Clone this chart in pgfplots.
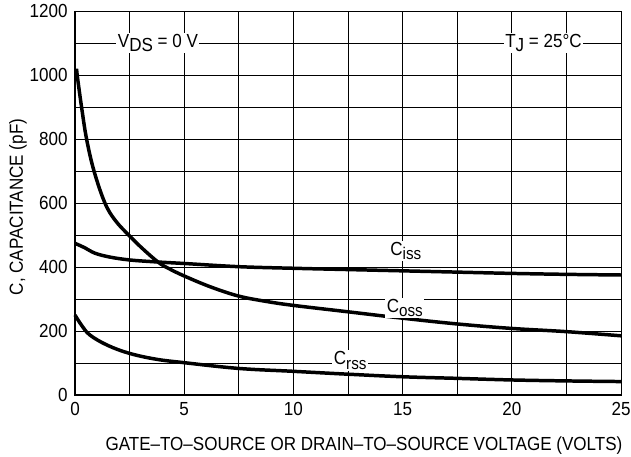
\documentclass[border=0pt]{standalone}
\usepackage{pgfplots}
\pgfplotsset{compat=1.18}
\usepackage{fontspec}
\setmainfont{Liberation Sans}[FakeStretch=0.9]
\newcommand\chartfont{\fontsize{19}{22}\selectfont}
\newcommand\subfont{\fontsize{17}{20}\selectfont}
\begin{document}
\begin{tikzpicture}
\begin{axis}[
    name=ax, scale only axis, width=546bp, height=384bp,
    xmin=0, xmax=25, ymin=0, ymax=1200,
    xtick={0,5,...,25}, ytick={0,200,...,1200},
    minor x tick num=1, minor y tick num=1,
    grid=both, grid style={black, line width=0.8pt},
    major tick length=0pt, minor tick length=0pt,
    axis line style={black, line width=0.8pt},
    tick label style={font=\chartfont},
    /pgf/number format/assume math mode=true,
    /pgf/number format/1000 sep=,
    xticklabel style={yshift=-4pt},
    yticklabel style={xshift=-4pt},
    xlabel={GATE--TO--SOURCE OR DRAIN--TO--SOURCE VOLTAGE (VOLTS)},
    ylabel={C, CAPACITANCE (pF)},
    label style={font=\chartfont},
    xlabel style={yshift=-14pt, xshift=16pt},
    ylabel style={yshift=-4pt, xshift=-4pt},
    clip=false,
    curve/.style={black, line width=3.5pt, smooth, tension=0.6, no markers},
  ]
  \draw[line width=2.5pt] (rel axis cs:0,1) -- (rel axis cs:0,0) -- (rel axis cs:1,0);
  % Ciss
  \addplot[curve] coordinates {(0,474) (0.45,460) (0.92,443) (1.6,431) (2.5,422) (3.7,416) (5,411) (7.5,401) (10,396) (12.5,392) (15,388) (17.5,384) (20,380) (22.5,377) (25,375)};
  % Coss
  \addplot[curve] coordinates {(0.08,1020) (0.1,1000) (0.3,900) (0.53,800) (0.87,700) (1.37,600) (1.85,545) (2.5,497) (3.1,457) (3.81,415) (4.3,395) (5,372) (6.2,338) (7.5,309) (8.8,292) (10,280) (12.5,260) (15,240) (17.5,222) (20,208) (22.5,198) (25,185)};
  % Crss
  \addplot[curve] coordinates {(0,250) (0.3,218) (0.69,187) (1.5,155) (2.5,130) (3.7,112) (5,101) (7.5,83) (10,74) (12.5,65) (15,57) (17.5,52) (20,47) (22.5,44) (25,42)};
  \begin{scope}[every node/.style={fill=white, inner sep=1.5pt, font=\chartfont}]
    \node at (axis cs:3.8,1100) {V\raisebox{-0.45ex}{DS} = 0 V};
    \node at (axis cs:21.45,1100) {T\raisebox{-0.45ex}{J} = 25\textdegree C};
    \node at (axis cs:15.15,450) {C\raisebox{-0.45ex}{\subfont iss}};
    \node at (axis cs:15.1,272) {C\raisebox{-0.45ex}{\subfont oss}};
    \node at (axis cs:12.6,108) {C\raisebox{-0.45ex}{\subfont rss}};
  \end{scope}
\end{axis}
\pgfresetboundingbox
\path (ax.south west) ++(-75bp,-62bp) coordinate (bl);
\path (ax.north east) ++(10bp,11bp) coordinate (tr);
\useasboundingbox (bl) rectangle (tr);
\end{tikzpicture}
\end{document}
